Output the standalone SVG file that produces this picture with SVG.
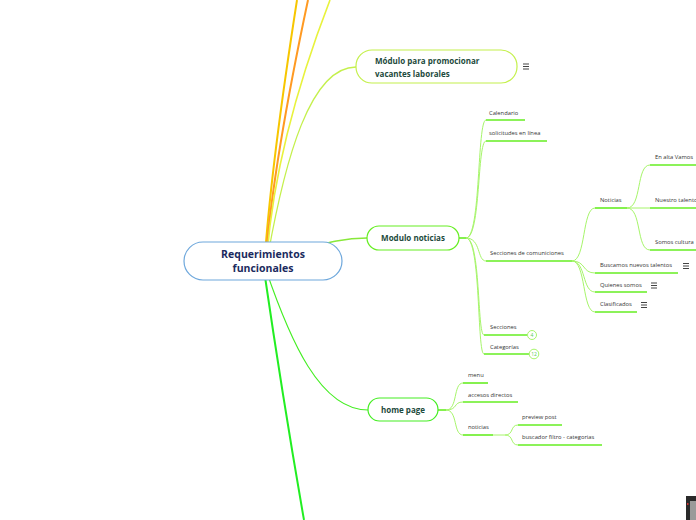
<svg xmlns="http://www.w3.org/2000/svg" width="696" height="520" viewBox="0 0 696 520">
<style>
.sub{font-family:"Open Sans","Liberation Sans",sans-serif;font-size:5.8px;fill:#333;}
.main{font-family:"Open Sans","Liberation Sans",sans-serif;font-size:8px;font-weight:bold;fill:#1d4a3c;}
.ctr{font-family:"Open Sans","Liberation Sans",sans-serif;font-size:10.5px;font-weight:bold;fill:#1b2b5e;}
.ul{stroke:#66ee22;stroke-width:1.6;fill:none;}
.cn{stroke:#a6f56a;stroke-width:1;fill:none;}
.menu{stroke:#444;stroke-width:1;}
.cnt{fill:#fff;stroke:#a6f56a;stroke-width:1;}
.cnttxt{font-family:"Open Sans","Liberation Sans",sans-serif;font-size:5px;fill:#5c5;text-anchor:middle;}
</style>
<rect width="696" height="520" fill="#fff"/>
<g id="connectors">
<path d="M265,255 Q272,160 297,0" stroke="#f7c600" stroke-width="2" fill="none"/>
<path d="M266,255 Q274,160 308,0" stroke="#ff9a22" stroke-width="2" fill="none"/>
<path d="M267,255 Q276,140 330,0" stroke="#e8f23c" stroke-width="1.6" fill="none"/>
<path d="M268,255 C285,160 310,67 356,67" stroke="#c4f04c" stroke-width="1.3" fill="none"/>
<path d="M300,250 C330,242 345,238 367,238" stroke="#88e83a" stroke-width="1.3" fill="none"/>
<path d="M266,270 C290,340 320,410 368,410" stroke="#44ee22" stroke-width="1.1" fill="none"/>
<path d="M264,270 Q283,400 304,520" stroke="#22ee22" stroke-width="2" fill="none"/>
<path d="M459,238 L466,238" class="cn" style="stroke:#66ee22;stroke-width:1.6"/>
<path d="M466,238 C481,238 477,120 486,120" class="cn"/>
<path d="M466,238 C481,238 477,141 486,141" class="cn"/>
<path d="M466,238 C481,238 477,261 486,261" class="cn"/>
<path d="M466,238 C481,238 477,335 484,335" class="cn"/>
<path d="M466,238 C481,238 477,354 484,354" class="cn"/>
<path d="M572,261 C586,261 582,208 595,208" class="cn"/>
<path d="M572,261 C586,261 582,273 595,273" class="cn"/>
<path d="M572,261 C586,261 582,292 595,292" class="cn"/>
<path d="M572,261 C586,261 582,312 595,312" class="cn"/>
<path d="M627,208 C642,208 636,165 650,165" class="cn"/>
<path d="M627,208 L650,208" class="cn"/>
<path d="M627,208 C642,208 636,250 650,250" class="cn"/>
<path d="M438,410 L446,410" class="cn" style="stroke:#66ee22;stroke-width:1.6"/>
<path d="M446,410 C458,410 453,383 463,383" class="cn"/>
<path d="M446,410 C458,410 453,402 463,402" class="cn"/>
<path d="M446,410 C458,410 453,435 463,435" class="cn"/>
<path d="M493,435 L505,435" class="cn"/>
<path d="M505,435 C514,435 510,425 518,425" class="cn"/>
<path d="M505,435 C514,435 510,445 518,445" class="cn"/>
</g>
<g id="n-center">
<rect x="184" y="242" width="158" height="38" rx="19" fill="#fff" stroke="#6fa8dc" stroke-width="1.2"/>
<text class="ctr" x="263" y="258" text-anchor="middle">Requerimientos</text>
<text class="ctr" x="263" y="272" text-anchor="middle">funcionales</text>
</g>
<g id="n-promo">
<rect x="356" y="50" width="161" height="33" rx="16" fill="#fff" stroke="#c4f04c" stroke-width="1.2"/>
<text class="main" x="375" y="64">Módulo para promocionar</text>
<text class="main" x="375" y="77">vacantes laborales</text>
<path class="menu" d="M523,64h6M523,66.5h6M523,69h6"/>
</g>
<g id="n-noticias">
<rect x="367" y="226" width="92" height="24" rx="12" fill="#fff" stroke="#66ee22" stroke-width="1.2"/>
<text class="main" x="413" y="241" text-anchor="middle">Modulo noticias</text>
</g>
<g id="n-calendario"><text class="sub" x="489" y="115">Calendario</text><path class="ul" d="M486,120H525"/></g>
<g id="n-solicitudes"><text class="sub" x="489" y="135">solicitudes en línea</text><path class="ul" d="M486,141H547"/></g>
<g id="n-secciones-com"><text class="sub" x="490" y="255">Secciones de comuniciones</text><path class="ul" d="M486,261H572"/></g>
<g id="n-noticias2"><text class="sub" x="600" y="202">Noticias</text><path class="ul" d="M595,208H627"/></g>
<g id="n-enalta"><text class="sub" x="655" y="159">En alta Vamos</text><path class="ul" d="M650,165H696"/></g>
<g id="n-talento"><text class="sub" x="655" y="202">Nuestro talento</text><path class="ul" d="M650,208H696"/></g>
<g id="n-cultura"><text class="sub" x="655" y="244">Somos cultura</text><path class="ul" d="M650,250H696"/></g>
<g id="n-buscamos"><text class="sub" x="600" y="267">Buscamos nuevos talentos</text><path class="ul" d="M595,273H678"/><path class="menu" d="M683,263.5h6M683,266h6M683,268.5h6"/></g>
<g id="n-quienes"><text class="sub" x="600" y="287">Quienes somos</text><path class="ul" d="M595,292H647"/><path class="menu" d="M651,283h6M651,285.5h6M651,288h6"/></g>
<g id="n-clasificados"><text class="sub" x="600" y="306">Clasificados</text><path class="ul" d="M595,312H637"/><path class="menu" d="M641,302.5h6M641,305h6M641,307.5h6"/></g>
<g id="n-secciones"><text class="sub" x="490" y="329">Secciones</text><path class="ul" d="M484,335H527"/><circle class="cnt" cx="532" cy="335" r="4.5"/><text class="cnttxt" x="532" y="337">4</text></g>
<g id="n-categorias"><text class="sub" x="490" y="349">Categorías</text><path class="ul" d="M484,354H529"/><circle class="cnt" cx="534" cy="354" r="4.8"/><text class="cnttxt" x="534" y="356">12</text></g>
<g id="n-home">
<rect x="368" y="398" width="70" height="23" rx="11.5" fill="#fff" stroke="#44ee22" stroke-width="1.2"/>
<text class="main" x="403" y="413" text-anchor="middle">home page</text>
</g>
<g id="n-menu"><text class="sub" x="468" y="377">menu</text><path class="ul" d="M463,383H488"/></g>
<g id="n-accesos"><text class="sub" x="468" y="397">accesos directos</text><path class="ul" d="M463,402H518"/></g>
<g id="n-noticias3"><text class="sub" x="468" y="429">noticias</text><path class="ul" d="M463,435H493"/></g>
<g id="n-preview"><text class="sub" x="522" y="419">preview post</text><path class="ul" d="M518,425H562"/></g>
<g id="n-buscador"><text class="sub" x="522" y="439">buscador filtro - categorias</text><path class="ul" d="M518,445H602"/></g>
<g id="widget">
<rect x="686" y="496" width="10" height="24" fill="#2a2a2a"/>
<rect x="690" y="501" width="6" height="19" fill="#9a9a9a"/>
<rect x="687" y="503" width="1.5" height="2" fill="#c33"/>
</g>
</svg>
